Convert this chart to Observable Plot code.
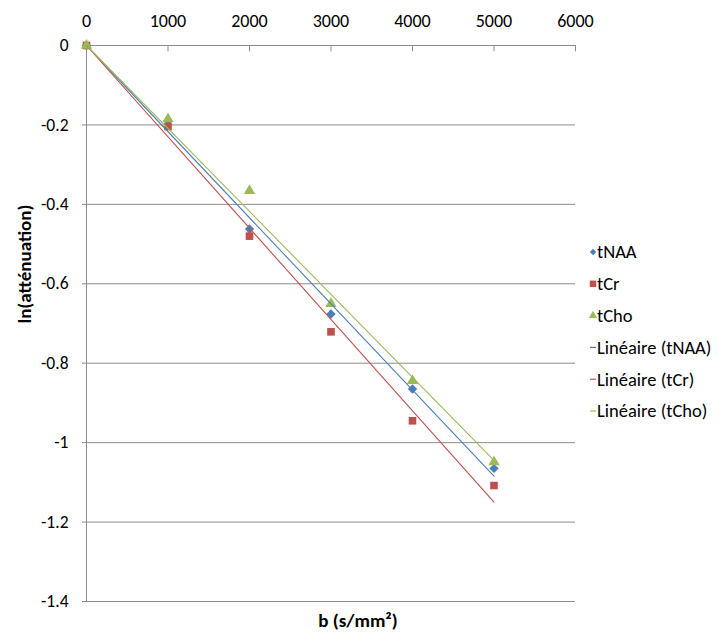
<!DOCTYPE html>
<html>
<head>
<meta charset="utf-8">
<script src="https://cdn.jsdelivr.net/npm/d3@7"></script>
<script src="https://cdn.jsdelivr.net/npm/@observablehq/plot@0.6"></script>
<style>
  body { margin: 0; background: #fff; }
</style>
</head>
<body>
<div id="chart"></div>
<script>
// b-values (s/mm²) and ln(attenuation) per metabolite
const bValues = [0, 1000, 2000, 3000, 4000, 5000];
const tNAA = [0, -0.19, -0.462, -0.676, -0.865, -1.065];
const tCr  = [0, -0.204, -0.48, -0.721, -0.945, -1.108];
const tCho = [0, -0.185, -0.366, -0.65, -0.844, -1.049];

const xTicks = [0, 1000, 2000, 3000, 4000, 5000, 6000];
const yTicks = [0, -0.2, -0.4, -0.6, -0.8, -1, -1.2, -1.4];

const seriesNames = ["tNAA", "tCr", "tCho"];
const seriesColors = ["#4A7EBB", "#C0504D", "#9BBB59"];
const seriesSymbols = ["diamond2", "square", "triangle"];
const seriesValues = [tNAA, tCr, tCho];

const gridColor = "#8c8c8c";
const font = "Carlito, 'Open Sans', 'Liberation Sans', sans-serif";

// Long-format rows for the scatter points
const points = seriesNames.flatMap((name, k) =>
  bValues.map((b, i) => ({series: name, b, v: seriesValues[k][i]}))
);

// Linear trend lines forced through the origin (least squares, zero intercept)
const fits = seriesNames.flatMap((name, k) => {
  const ys = seriesValues[k];
  const slope = d3.sum(bValues, (b, i) => b * ys[i]) / d3.sum(bValues, b => b * b);
  const xMax = d3.max(bValues);
  return [{series: name, b: 0, v: 0}, {series: name, b: xMax, v: slope * xMax}];
});

const colorOf = Object.fromEntries(seriesNames.map((n, k) => [n, seriesColors[k]]));

const chart = Plot.plot({
  width: 727,
  height: 639,
  marginLeft: 86,
  marginTop: 45,
  marginRight: 152,
  marginBottom: 38,
  style: {fontFamily: font, fontSize: "14px", color: "#000", background: "#fff"},
  x: {domain: [0, 6000]},
  y: {domain: [-1.4, 0]},
  marks: [
    Plot.gridY(yTicks, {stroke: gridColor, strokeOpacity: 1}),
    Plot.ruleX([0], {stroke: gridColor}),
    Plot.axisY(yTicks, {
      tickSize: 4, tickPadding: 14, stroke: gridColor, label: null, fontSize: 17.5,
      tickFormat: d => String(+d.toFixed(1))
    }),
    Plot.axisX(xTicks, {
      anchor: "top", tickSize: 0, tickPadding: 19, label: null, fontSize: 18,
      tickFormat: d => String(d)
    }),
    Plot.ruleX(xTicks, {y1: 0, y2: -0.016, stroke: gridColor}),
    ...seriesNames.map((name, k) =>
      Plot.dot(points.filter(d => d.series === name), {
        x: "b", y: "v", symbol: () => seriesSymbols[k], r: k === 1 ? 4.3 : 4.2,
        fill: seriesColors[k], stroke: "none"
      })
    ),
    Plot.line(fits, {x: "b", y: "v", z: "series", stroke: d => colorOf[d.series], strokeWidth: 1.1}),
    Plot.text(["ln(atténuation)"], {frameAnchor: "left", rotate: -90, dx: -62, fontWeight: "bold", fontSize: 19}),
    Plot.text(["b (s/mm²)"], {frameAnchor: "bottom", dx: 27, dy: 25, fontWeight: "bold", fontSize: 19})
  ]
});

document.getElementById("chart").appendChild(chart);

// Legend on the right: marker entries, then trend-line entries
const svg = d3.select(chart);
const legend = svg.append("g")
  .attr("font-family", font)
  .attr("font-size", 18.5)
  .attr("text-anchor", "start");
const legendItems = [
  ...seriesNames.map((n, k) => ({label: n, kind: "dot", k})),
  ...seriesNames.map((n, k) => ({label: `Linéaire (${n})`, kind: "line", k}))
];
legendItems.forEach((item, i) => {
  const y = 252 + i * 31.8;
  const g = legend.append("g").attr("transform", `translate(593,${y})`);
  if (item.kind === "dot") {
    const sym = [d3.symbolDiamond2, d3.symbolSquare, d3.symbolTriangle][item.k];
    const size = [26, 42, 30][item.k];
    g.append("path").attr("d", d3.symbol(sym, size)()).attr("fill", seriesColors[item.k]);
  } else {
    g.append("line").attr("x1", -3).attr("x2", 3).attr("stroke", seriesColors[item.k]).attr("stroke-width", 1.2);
  }
  g.append("text").attr("x", 4).attr("dy", "0.35em").attr("fill", "#000").text(item.label);
});
</script>
</body>
</html>
